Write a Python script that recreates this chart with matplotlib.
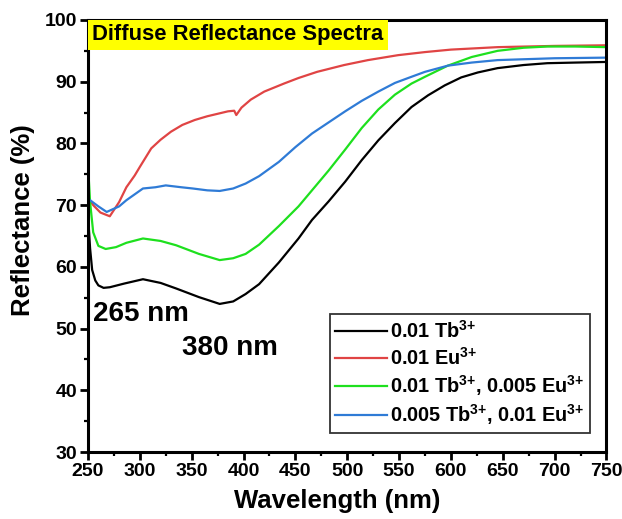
import matplotlib
matplotlib.use("Agg")
import matplotlib.pyplot as plt
from matplotlib.ticker import MultipleLocator

plt.rcParams['font.family'] = ['Liberation Sans', 'DejaVu Sans']
plt.rcParams['font.weight'] = 'bold'
plt.rcParams['mathtext.fontset'] = 'custom'
plt.rcParams['mathtext.rm'] = 'Liberation Sans:bold'
plt.rcParams['mathtext.bf'] = 'Liberation Sans:bold'
plt.rcParams['mathtext.it'] = 'Liberation Sans:bold:italic'
plt.rcParams['mathtext.default'] = 'regular'

# Diffuse reflectance spectra (wavelength in nm, reflectance in %)
wl_tb = [250, 252, 254, 257, 260, 265, 271, 285, 303, 320, 335, 357, 377, 390, 402, 415,
         434, 453, 466, 482, 498, 514, 530, 546, 562, 578, 594, 610, 626, 645, 670, 693,
         720, 750]
r_tb = [68.5, 63.0, 59.5, 57.8, 57.0, 56.6, 56.7, 57.3, 58.0, 57.4, 56.5, 55.1, 54.0, 54.4,
        55.6, 57.2, 60.7, 64.6, 67.6, 70.6, 73.8, 77.3, 80.5, 83.3, 85.9, 87.8, 89.4, 90.7,
        91.5, 92.2, 92.7, 93.0, 93.1, 93.2]

wl_eu = [250, 255, 262, 271, 280, 287, 295, 300, 311, 320, 330, 341, 353, 365, 375, 385,
         391, 393, 398, 407, 420, 439, 453, 471, 497, 520, 549, 575, 600, 645, 700, 750]
r_eu = [71.2, 70.0, 68.8, 68.2, 70.5, 72.9, 74.8, 76.2, 79.2, 80.6, 81.9, 83.0, 83.8, 84.4,
        84.8, 85.2, 85.3, 84.6, 85.8, 87.1, 88.4, 89.7, 90.6, 91.6, 92.7, 93.5, 94.3, 94.8,
        95.2, 95.6, 95.8, 95.9]

wl_tb_eu = [250, 252, 255, 260, 267, 277, 287, 303, 320, 335, 357, 377, 390, 402, 415, 434,
            453, 466, 482, 498, 514, 530, 546, 562, 575, 597, 620, 645, 670, 693, 720, 750]
r_tb_eu = [76.5, 70.5, 65.6, 63.4, 62.9, 63.2, 63.9, 64.6, 64.2, 63.5, 62.1, 61.1, 61.4,
           62.1, 63.6, 66.6, 69.8, 72.4, 75.6, 79.0, 82.5, 85.5, 87.9, 89.7, 90.8, 92.6,
           94.0, 95.0, 95.5, 95.7, 95.7, 95.6]

wl_eu_tb = [250, 252, 260, 268, 280, 287, 303, 315, 325, 340, 351, 365, 377, 390, 402, 415,
            434, 450, 466, 482, 498, 514, 530, 546, 562, 575, 597, 620, 645, 700, 750]
r_eu_tb = [71.0, 70.8, 69.8, 68.9, 69.8, 70.8, 72.7, 72.9, 73.2, 72.9, 72.7, 72.4, 72.3,
           72.7, 73.5, 74.7, 77.0, 79.4, 81.6, 83.4, 85.2, 86.9, 88.4, 89.8, 90.8, 91.6,
           92.6, 93.1, 93.5, 93.8, 93.9]

labels = [r'0.01 Tb$^{3{+}}$', r'0.01 Eu$^{3{+}}$',
          r'0.01 Tb$^{3{+}}$, 0.005 Eu$^{3{+}}$', r'0.005 Tb$^{3{+}}$, 0.01 Eu$^{3{+}}$']
colors = ['#000000', '#e04444', '#1ee01e', '#2f7bd6']

fig = plt.figure(figsize=(6.22, 5.19), dpi=100)
ax = fig.add_axes([0.1415, 0.129, 0.8335, 0.8325])

for x, y, c, lab in zip([wl_tb, wl_eu, wl_tb_eu, wl_eu_tb],
                        [r_tb, r_eu, r_tb_eu, r_eu_tb], colors, labels):
    ax.plot(x, y, color=c, lw=1.6, label=lab)

ax.set_xlim(250, 750)
ax.set_ylim(30, 100)
ax.xaxis.set_major_locator(MultipleLocator(50))
ax.xaxis.set_minor_locator(MultipleLocator(25))
ax.yaxis.set_major_locator(MultipleLocator(10))
ax.yaxis.set_minor_locator(MultipleLocator(5))
ax.tick_params(which='major', direction='out', length=6, width=2, labelsize=14, pad=2)
ax.tick_params(which='minor', direction='out', length=3, width=1.6)
for lbl in ax.get_xticklabels() + ax.get_yticklabels():
    lbl.set_fontweight('bold')
for s in ax.spines.values():
    s.set_linewidth(2.2)

ax.set_xlabel('Wavelength (nm)', fontsize=18.5, fontweight='bold')
ax.set_ylabel('Reflectance (%)', fontsize=18.5, fontweight='bold')
ax.xaxis.set_label_coords(0.48, -0.085)
ax.yaxis.set_label_coords(-0.102, 0.537)

ax.text(0.0085, 0.99, 'Diffuse Reflectance Spectra', transform=ax.transAxes,
        ha='left', va='top', fontsize=15.8, fontweight='bold',
        bbox=dict(boxstyle='square,pad=0.2', facecolor='#ffff00', edgecolor='none'))

ax.text(254.5, 52.4, '265 nm', fontsize=20, fontweight='bold', ha='left', va='center')
ax.text(341, 46.9, '380 nm', fontsize=20, fontweight='bold', ha='left', va='center')

leg = ax.legend(loc='lower right', bbox_to_anchor=(0.969, 0.044), borderaxespad=0,
                fontsize=14.3, frameon=True, fancybox=False, edgecolor='black',
                handlelength=2.6, handletextpad=0.15, borderpad=0.3, labelspacing=0.22)
leg.get_frame().set_linewidth(1.3)
for t in leg.get_texts():
    t.set_fontweight('bold')

fig.savefig('out.png', dpi=100)
